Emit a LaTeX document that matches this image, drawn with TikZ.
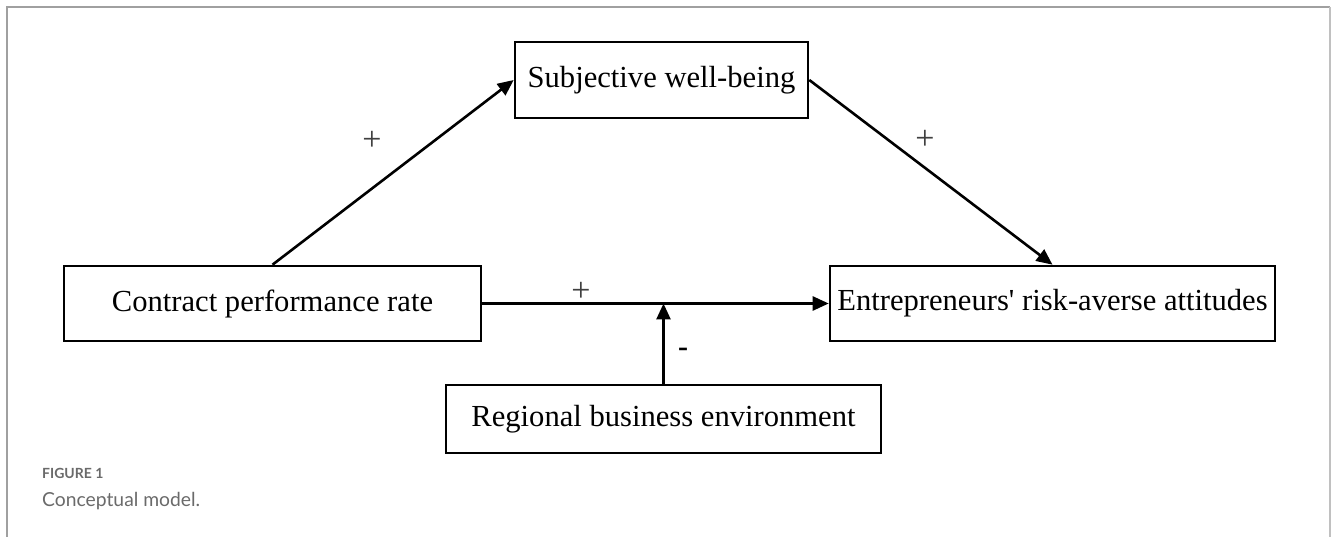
\documentclass[tikz,border=0pt]{standalone}
\usepackage{fontspec}
\setmainfont{Liberation Serif}[Ligatures=TeXOff]
\newfontfamily\capfont{Lato}
\usetikzlibrary{arrows.meta,calc}
\definecolor{framegray}{HTML}{A0A0A0}
\definecolor{framelight}{HTML}{C0C0C0}
\definecolor{capgray}{HTML}{6A6A6A}
\begin{document}
\begin{tikzpicture}[x=1pt,y=-1pt,
  box/.style={draw=black,line width=2.6pt,inner sep=0pt,fill=white,
    font=\fontsize{30.6pt}{36pt}\selectfont},
  conn/.style={line width=2.6pt,-{Triangle[length=16pt,width=14pt]}},
  sign/.style={font=\fontsize{34pt}{38pt}\selectfont,text=black!75,inner sep=0pt}]
\useasboundingbox (0,0) rectangle (1331,537);
% frame
\draw[framegray,line width=2pt] (7,537) -- (7,7) -- (1330,7);
\draw[framelight,line width=2pt] (1330,7) -- (1330,537);
% boxes
\node[box,minimum width=293pt,minimum height=76pt] (swb) at (661.5,80) {Subjective well-being};
\node[box,minimum width=417pt,minimum height=75pt] (cpr) at (272.5,303.5) {Contract performance rate};
\node[box,minimum width=445pt,minimum height=75pt] (era) at (1052.5,303.5) {Entrepreneurs' risk-averse attitudes};
\node[box,minimum width=435pt,minimum height=68pt] (rbe) at (663.5,419) {Regional business environment};
% connectors
\draw[conn] (cpr.north) -- (swb.west);
\draw[conn] (swb.east) -- (era.north);
\draw[conn] (cpr.east) -- (era.west);
\coordinate (mod) at (rbe.north |- cpr.east);
\draw[conn] (rbe.north) -- (mod);
% signs
\node[sign] (p1) at (372,141) {+};
\node[sign] (p2) at (925,140) {+};
\node[sign] (p3) at (581,292) {+};
\node[font=\fontsize{30pt}{34pt}\selectfont\bfseries,inner sep=0pt] (m1) at (683,352) {-};
% caption
\node[anchor=base west,inner sep=0pt,text=capgray,font=\capfont\bfseries\fontsize{14pt}{16pt}\selectfont] (fig) at (42,478) {FIGURE 1};
\node[anchor=base west,inner sep=0pt,text=capgray,font=\capfont\fontsize{19.3pt}{22pt}\selectfont] (cap) at (42,506) {Conceptual model.};
\end{tikzpicture}
\end{document}
